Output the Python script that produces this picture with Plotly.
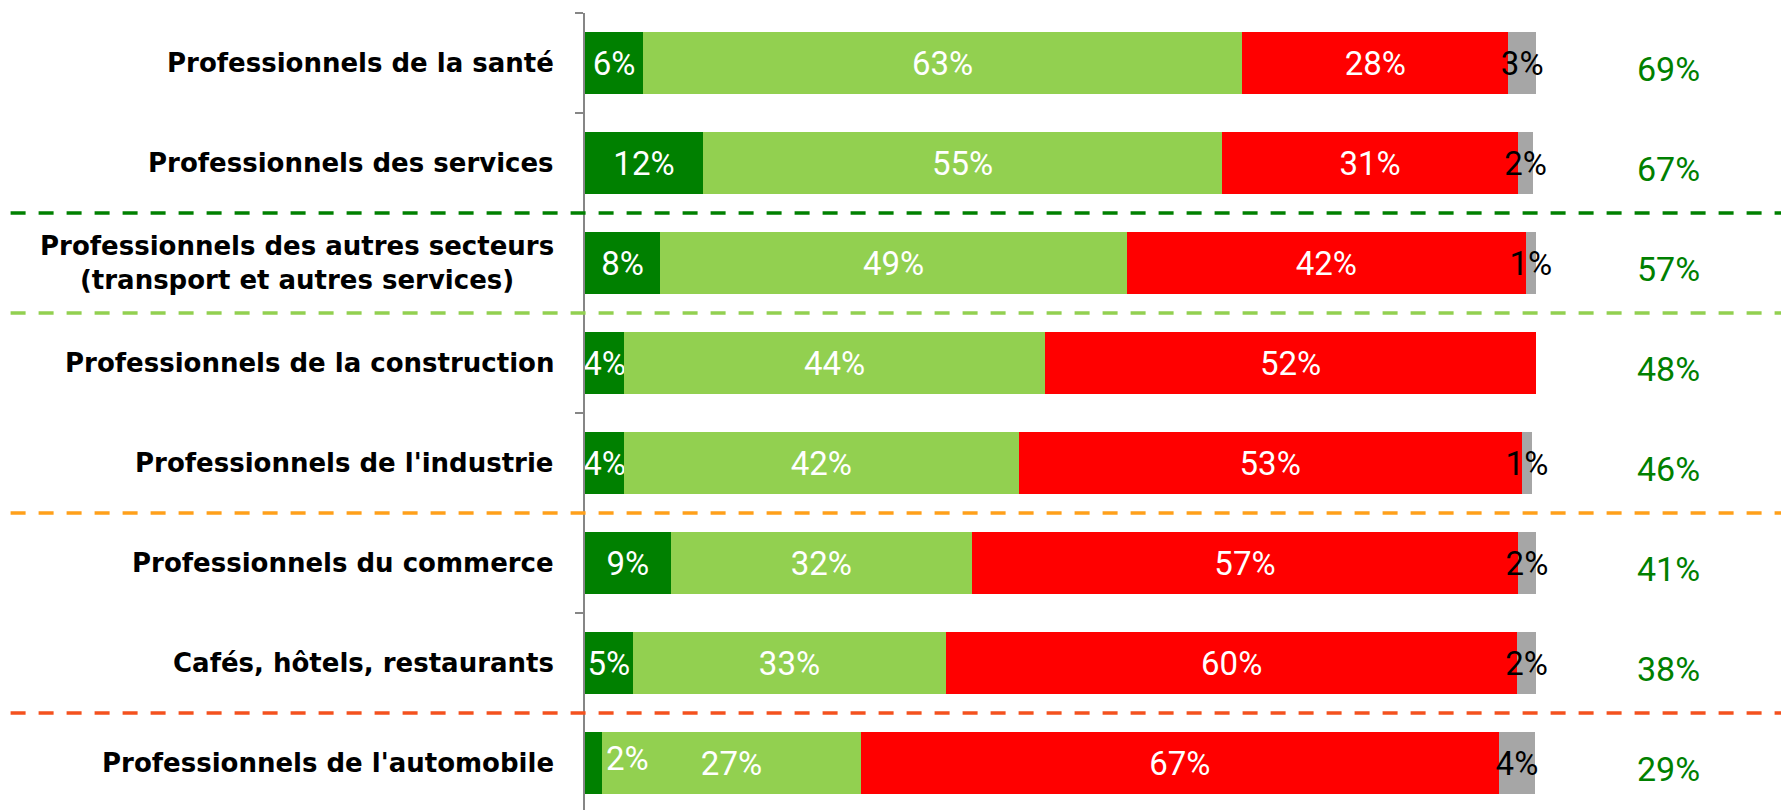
import plotly.graph_objects as go

categories = [
    "Professionnels de la santé",
    "Professionnels des services",
    "Professionnels des autres secteurs<br>(transport et autres services)",
    "Professionnels de la construction",
    "Professionnels de l'industrie",
    "Professionnels du commerce",
    "Cafés, hôtels, restaurants",
    "Professionnels de l'automobile",
]
dark_green = [6.1, 12.4, 7.9, 4.1, 4.1, 9.0, 5.0, 1.8]
light_green = [63.0, 54.6, 49.1, 44.3, 41.5, 31.7, 33.0, 27.2]
red = [28.0, 31.1, 41.9, 51.6, 52.9, 57.4, 60.0, 67.1]
grey = [2.9, 1.6, 1.1, 0.0, 1.1, 1.9, 2.0, 3.8]
totals = ["69%", "67%", "57%", "48%", "46%", "41%", "38%", "29%"]

ypos = list(range(len(categories)))

BAR_FONT = "Roboto, Liberation Sans, Arial, sans-serif"
LABEL_FONT = "DejaVu Sans, Verdana, sans-serif"
FS = 33


def lab(vals, skip=()):
    out = []
    for i, v in enumerate(vals):
        if v <= 0 or i in skip:
            out.append("")
        else:
            out.append(f"{int(v + 0.5)}%")
    return out


fig = go.Figure()
series = [
    (dark_green, "#008000", "white", lab(dark_green, skip=(7,))),
    (light_green, "#92D050", "white", lab(light_green)),
    (red, "#FF0000", "white", lab(red)),
    (grey, "#A6A6A6", "black", lab(grey)),
]
for vals, col, tcol, txt in series:
    fig.add_trace(go.Bar(
        y=ypos, x=vals, orientation="h", width=0.62,
        marker=dict(color=col, line=dict(width=0)),
        text=txt, textposition="inside", insidetextanchor="middle",
        textangle=0, constraintext="none", cliponaxis=False,
        textfont=dict(color=tcol, size=FS, family=BAR_FONT),
        showlegend=False, hoverinfo="skip",
    ))

# Label of the thin dark-green segment, moved right in the original
fig.add_annotation(x=dark_green[7] + 2.7, y=7, xref="x", yref="y", yshift=5,
                   text=f"{int(dark_green[7] + 0.5)}%", showarrow=False,
                   font=dict(color="white", size=FS, family=BAR_FONT))

# Category labels
for i, c in enumerate(categories):
    fig.add_annotation(x=-0.03, y=i, xref="paper", yref="y", text=f"<b>{c}</b>",
                       showarrow=False, xanchor="right", align="center",
                       font=dict(color="black", size=26, family=LABEL_FONT))

# Totals
for i, t in enumerate(totals):
    fig.add_annotation(x=1.139, y=i, xref="paper", yref="y", yshift=-6, text=t,
                       showarrow=False, xanchor="center",
                       font=dict(color="#008000", size=34, family=BAR_FONT))

# Dashed separators
for yv, col in [(1.5, "#008000"), (2.5, "#92D050"), (4.5, "#FFA01A"), (6.5, "#F4511E")]:
    fig.add_shape(type="line", xref="paper", yref="y", x0=-0.604, x1=1.26, y0=yv, y1=yv,
                  line=dict(color=col, width=3.5, dash="15px,13px"), layer="above")

fig.update_layout(
    barmode="stack",
    width=1781, height=810,
    margin=dict(l=585, r=245, t=13, b=0),
    plot_bgcolor="white", paper_bgcolor="white",
    uniformtext=dict(minsize=FS, mode="show"),
    xaxis=dict(range=[0, 100], visible=False, fixedrange=True),
    yaxis=dict(range=[7.47, -0.5], showgrid=False, zeroline=False,
               showline=True, linecolor="#868686", linewidth=1.5,
               ticks="outside", tickvals=[-0.5 + k for k in range(9)],
               ticklen=8, tickcolor="#868686", tickwidth=1.5,
               showticklabels=False, fixedrange=True),
)

fig.write_html("out.html", config={"displayModeBar": False},
               post_script="document.body.style.margin='0';document.body.style.overflow='hidden';")
